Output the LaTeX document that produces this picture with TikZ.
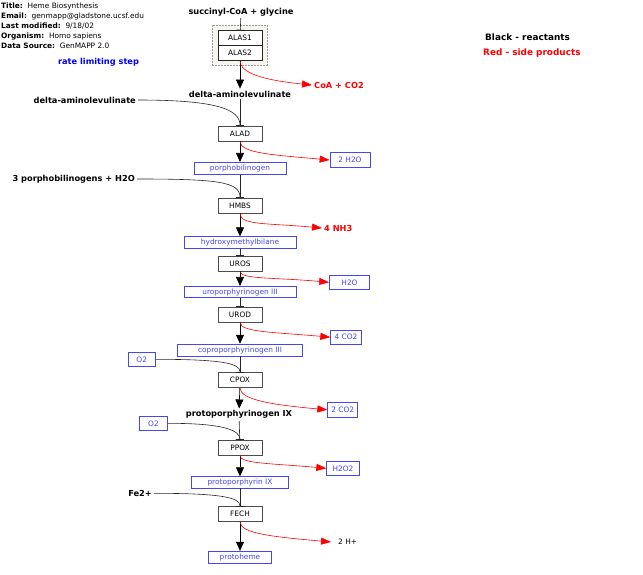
\documentclass[tikz,border=0pt]{standalone}
\usepackage{fontspec}
\setmainfont{DejaVu Sans}
\usetikzlibrary{arrows.meta, positioning}

\definecolor{metblue}{RGB}{70,70,245}
\definecolor{groupfill}{RGB}{246,246,238}

\begin{document}
\begin{tikzpicture}[
    x=1pt, y=-1pt,
    enzyme/.style = {
        rectangle, draw=black!70, fill=white, line width=0.7pt,
        minimum width=44pt, minimum height=15pt, inner sep=0pt,
        font=\fontsize{7.4}{9}\selectfont
    },
    metab/.style = {
        rectangle, draw=metblue, fill=white, text=metblue, line width=0.7pt,
        minimum height=12pt, inner sep=0pt,
        font=\fontsize{7.4}{9}\selectfont
    },
    reactant/.style = {inner sep=2pt, font=\fontsize{8.25}{10}\selectfont\bfseries},
    group/.style = {rectangle, draw=black!40, dash pattern=on 2pt off 1pt, fill=groupfill},
    feed/.style = {-{Bar[width=8pt]}, black!85, line width=0.6pt},
    conv/.style = {-{Triangle[width=8pt,length=9pt]}, black, line width=0.6pt},
    side/.style = {-{Triangle[width=7pt,length=10pt]}, red, line width=0.6pt}
]
\useasboundingbox (0,0) rectangle (643,574);

% Header
\node[anchor=north west, inner sep=0pt, align=left,
      font=\fontsize{7.4}{10}\selectfont] (meta) at (1,3)
    {\textbf{Title:}\ \ Heme Biosynthesis\\
     \textbf{Email:}\ \ genmapp@gladstone.ucsf.edu\\
     \textbf{Last modified:}\ \ 9/18/02\\
     \textbf{Organism:}\ \ Homo sapiens\\
     \textbf{Data Source:}\ \ GenMAPP 2.0};
\node[reactant, text=blue] (ratelim) at (98.5,62.5) {rate limiting step};

% Legend
\node[reactant, anchor=west, font=\fontsize{8.9}{10}\selectfont\bfseries] (legblack) at (483,37.3) {Black - reactants};
\node[reactant, anchor=west, text=red, font=\fontsize{8.9}{10}\selectfont\bfseries] (legred) at (481,53.3) {Red - side products};

% ALAS
\node[reactant] (succ) at (241,12) {succinyl-CoA + glycine};
\node[group, minimum width=55pt, minimum height=40pt] (grp) at (239.5,45) {};
\node[enzyme, draw=black!85] (alas1) at (240,38.2) {ALAS1};
\node[enzyme, draw=black!85, minimum height=14.6pt] (alas2) at (240,53) {ALAS2};
\node[reactant] (ala) at (240,94) {delta-aminolevulinate};
\node[reactant, text=red, anchor=west] (coa) at (312,85) {CoA + CO2};

% ALAD
\node[reactant, anchor=east] (alaL) at (138,100) {delta-aminolevulinate};
\node[enzyme] (alad) at (240,133.5) {ALAD};
\node[metab, minimum width=92pt] (pbg) at (240,168.3) {porphobilinogen};
\node[metab, minimum width=40pt, minimum height=14.6pt] (h2oA) at (350,160) {2 H2O};

% HMBS
\node[reactant, anchor=east] (pbgL) at (137,179) {3 porphobilinogens + H2O};
\node[enzyme] (hmbs) at (240,205.5) {HMBS};
\node[metab, minimum width=112pt] (hmb) at (240,242.7) {hydroxymethylbilane};
\node[reactant, text=red, anchor=west] (nh3) at (322,228) {4 NH3};

% UROS
\node[enzyme] (uros) at (240,263.5) {UROS};
\node[metab, minimum width=112pt, minimum height=11.4pt] (uro) at (240,292) {uroporphyrinogen III};
\node[metab, minimum width=40pt, minimum height=14pt] (h2oB) at (349.5,282.3) {H2O};

% UROD
\node[enzyme] (urod) at (240,314.5) {UROD};
\node[metab, minimum width=125pt] (copro) at (240,350.1) {coproporphyrinogen III};
\node[metab, minimum width=30.6pt, minimum height=14.3pt] (co2A) at (346,337.2) {4 CO2};

% CPOX
\node[metab, minimum width=27.3pt, minimum height=14.7pt] (o2A) at (141.7,359.3) {O2};
\node[enzyme] (cpox) at (240,380) {CPOX};
\node[reactant] (protogen) at (239,414.7) {protoporphyrinogen IX};
\node[metab, minimum width=30pt, minimum height=15pt] (co2B) at (342.7,409.8) {2 CO2};

% PPOX
\node[metab, minimum width=28.4pt, minimum height=14.7pt] (o2B) at (153.5,423.3) {O2};
\node[enzyme] (ppox) at (240,447.8) {PPOX};
\node[metab, minimum width=96.4pt, minimum height=11.3pt] (ppix) at (240,482.3) {protoporphyrin IX};
\node[metab, minimum width=32.6pt, minimum height=14.7pt] (h2o2) at (343,468.3) {H2O2};

% FECH
\node[reactant, anchor=east] (fe) at (154,493.3) {Fe2+};
\node[enzyme] (fech) at (240,514) {FECH};
\node[metab, minimum width=62.4pt] (heme) at (240,557.2) {protoheme};
\node[anchor=west, inner xsep=7pt, font=\fontsize{7.4}{9}\selectfont] (hplus) at (331,542) {2 H+};

% Substrates into enzymes
\draw[feed] (succ) -- (alas1);
\draw[feed] (ala) -- (alad);
\draw[feed] (alaL.east) .. controls +(80,0) and +(0,-16) .. (alad.north);
\draw[feed] (pbg) -- (hmbs);
\draw[feed] (pbgL.east) .. controls +(80,0) and +(0,-16) .. (hmbs.north);
\draw[feed] (hmb) -- (uros);
\draw[feed] (uro) -- (urod);
\draw[feed] (copro) -- (cpox);
\draw[feed] (o2A.east) .. controls +(65,0) and +(0,-9) .. (cpox.north);
\draw[feed] (protogen) -- (ppox);
\draw[feed] (o2B.east) .. controls +(55,0) and +(0,-10) .. (ppox.north);
\draw[feed] (ppix) -- (fech);
\draw[feed] (fe.east) .. controls +(65,0) and +(0,-9) .. (fech.north);

% Products
\draw[conv] (alas2) -- (ala);
\draw[conv] (alad) -- (pbg);
\draw[conv] (hmbs) -- (hmb);
\draw[conv] (uros) -- (uro);
\draw[conv] (urod) -- (copro);
\draw[conv] (cpox) -- (protogen);
\draw[conv] (ppox) -- (ppix);
\draw[conv] (fech) -- (heme);

% Side products
\draw[side] (alas2.south) .. controls +(0,12) and +(-50,-5) .. (coa.west);
\draw[side] (alad.south) .. controls +(0,12) and +(-55,-5) .. (h2oA.west);
\draw[side] (hmbs.south) .. controls +(0,12) and +(-55,-5) .. (nh3.west);
\draw[side] (uros.south) .. controls +(0,8) and +(-55,-5) .. (h2oB.west);
\draw[side] (urod.south) .. controls +(0,10) and +(-55,-5) .. (co2A.west);
\draw[side] (cpox.south) .. controls +(0,12) and +(-55,-5) .. (co2B.west);
\draw[side] (ppox.south) .. controls +(0,8) and +(-55,-5) .. (h2o2.west);
\draw[side] (fech.south) .. controls +(0,12) and +(-55,-5) .. (hplus.west);

\end{tikzpicture}
\end{document}
